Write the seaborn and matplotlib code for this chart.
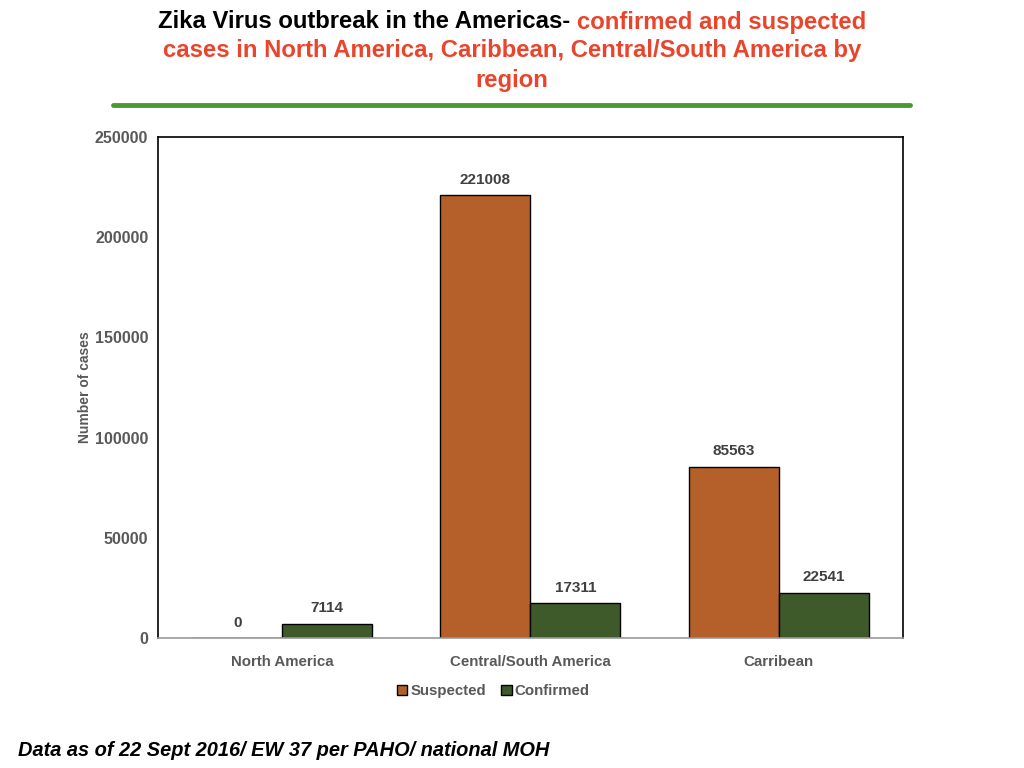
import matplotlib
matplotlib.use("Agg")
import matplotlib.pyplot as plt
import seaborn as sns
import pandas as pd

# chart data
regions = ["North America", "Central/South America", "Carribean"]
suspected = [0, 221008, 85563]
confirmed = [7114, 17311, 22541]
series = ["Suspected", "Confirmed"]
yticks = [0, 50000, 100000, 150000, 200000, 250000]

df = pd.DataFrame({
    "region": regions * 2,
    "type": [series[0]] * 3 + [series[1]] * 3,
    "cases": suspected + confirmed,
})

sns.set_style("white")
plt.rcParams["font.family"] = ["Liberation Sans", "DejaVu Sans"]

orange = "#B5602B"
green = "#3F5A2A"
red = "#E8452C"
gray = "#595959"

fig = plt.figure(figsize=(10.24, 7.68), dpi=100)
ax = fig.add_axes([0.1543, 0.1693, 0.7275, 0.6523])

sns.barplot(data=df, x="region", y="cases", hue="type", order=regions,
            hue_order=series, palette=[orange, green], width=0.725, saturation=1,
            edgecolor="black", linewidth=1, ax=ax, legend=True)

for cont in ax.containers:
    ax.bar_label(cont, fmt="%d", padding=6, fontsize=11, fontweight="bold", color="#404040")

ax.set_xlim(-0.5, 2.5)
ax.set_ylim(0, 250000)
ax.set_yticks(yticks)
ax.set_yticklabels([str(v) for v in yticks], fontsize=11.5, fontweight="bold", color=gray)
ax.tick_params(axis="x", labelsize=10.8, labelcolor=gray, length=0, pad=12)
ax.tick_params(axis="y", length=0, pad=7)
for lab in ax.get_xticklabels():
    lab.set_fontweight("bold")
ax.set_xlabel("")
ax.set_ylabel("Number of cases", fontsize=10, fontweight="bold", color=gray)
ax.yaxis.set_label_coords(-0.088, 0.5)

for s in ["top", "right", "left"]:
    ax.spines[s].set_color("black")
    ax.spines[s].set_linewidth(1.2)
ax.spines["bottom"].set_color("#9a9a9a")
ax.spines["bottom"].set_linewidth(1.2)

leg = ax.legend(loc="upper center", bbox_to_anchor=(0.45, -0.065), ncol=2, frameon=False,
                fontsize=10.8, handlelength=0.7, handleheight=0.7, handletextpad=0.2,
                columnspacing=1.0)
for t in leg.get_texts():
    t.set_color(gray)
    t.set_fontweight("bold")

# title, first line in two colours
fig.canvas.draw()
renderer = fig.canvas.get_renderer()
part1 = "Zika Virus outbreak in the Americas- "
part2 = "confirmed and suspected"
fs = 17.2
t1 = fig.text(0, 0, part1, fontsize=fs, fontweight="bold", color="black")
t2 = fig.text(0, 0, part2, fontsize=fs, fontweight="bold", color=red)
w1 = t1.get_window_extent(renderer).width
w2 = t2.get_window_extent(renderer).width
x0 = (1024 - (w1 + w2)) / 2
y1 = 768 - 22
t1.set_position((x0 / 1024, y1 / 768))
t2.set_position(((x0 + w1) / 1024, y1 / 768))
t1.set_va("center")
t2.set_va("center")
fig.text(0.5, 1 - 51 / 768, "cases in North America, Caribbean, Central/South America by",
         fontsize=fs, fontweight="bold", color=red, ha="center", va="center")
fig.text(0.5, 1 - 80 / 768, "region", fontsize=fs, fontweight="bold", color=red,
         ha="center", va="center")

fig.add_artist(plt.Line2D([113 / 1024, 910 / 1024], [1 - 105 / 768] * 2,
                          color="#4A9A30", linewidth=3.5))

fig.text(18 / 1024, 1 - 751 / 768, "Data as of 22 Sept 2016/ EW 37 per PAHO/ national MOH",
         fontsize=14.4, fontweight="bold", fontstyle="italic", color="black", va="center")

fig.savefig("out.png", dpi=100)
